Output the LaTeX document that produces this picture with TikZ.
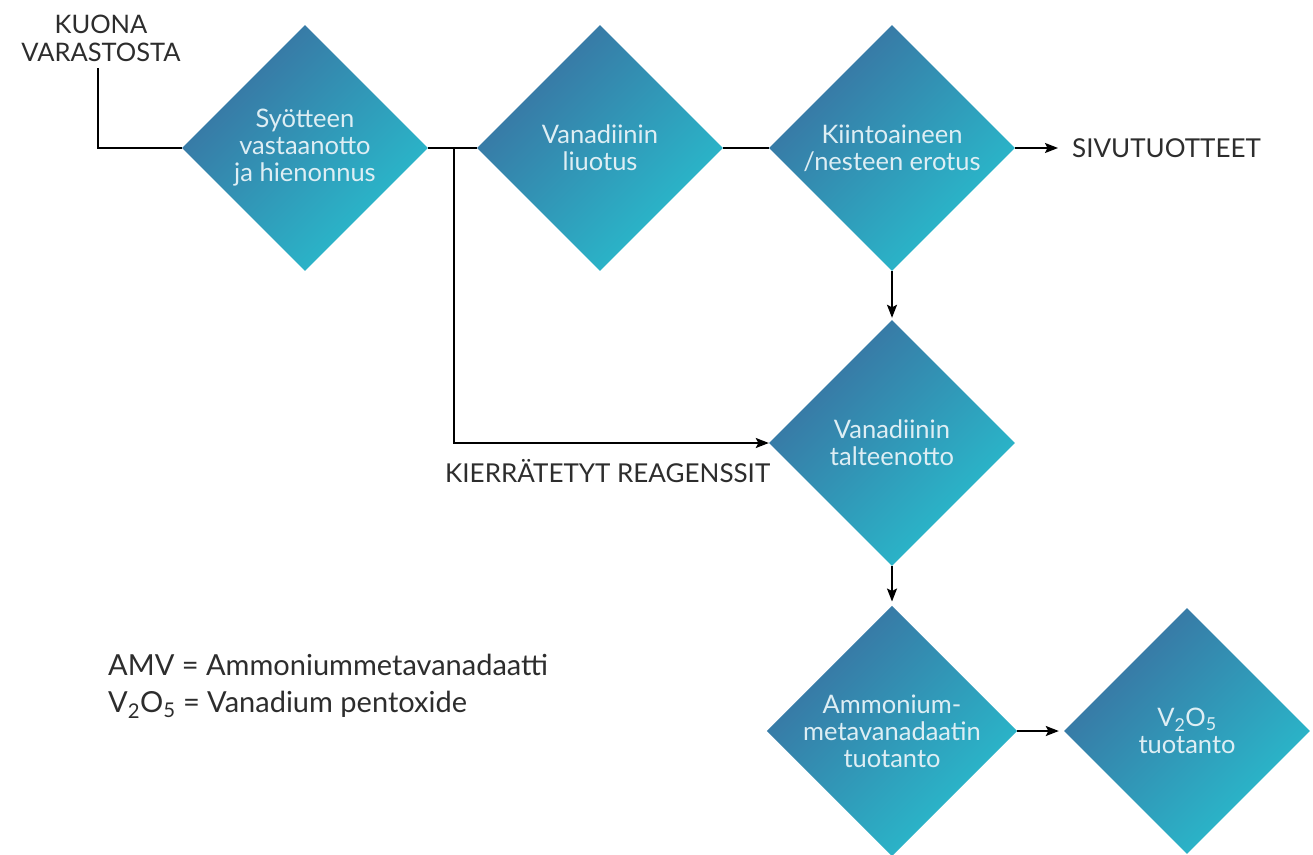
\documentclass[tikz,border=0pt]{standalone}
\usepackage{fontspec}
\setmainfont{Lato}
\usetikzlibrary{shapes.geometric,arrows.meta}
\definecolor{dkblue}{RGB}{58,112,160}
\definecolor{cyanb}{RGB}{40,190,206}
\definecolor{txtlight}{RGB}{222,238,244}
\definecolor{ink}{RGB}{45,45,45}
\begin{document}
\begin{tikzpicture}[x=1pt,y=-1pt,
  proc/.style={diamond, aspect=1, minimum width=246pt, minimum height=246pt, inner sep=0pt,
    top color=dkblue, bottom color=cyanb, shading angle=45, text=txtlight, align=center,
    font=\fontsize{25.5}{27}\selectfont},
  lbl/.style={text=ink, font=\fontsize{26}{28}\selectfont, inner sep=0pt},
  conn/.style={line width=1.7pt, draw=black},
  arr/.style={conn, -{Stealth[length=13pt,width=10pt,inset=2.5pt]}}]
\useasboundingbox (0,0) rectangle (1313,854);

\node[proc] (d1) at (305,148) {Syötteen\\vastaanotto\\ja hienonnus};
\node[proc] (d2) at (600,148) {Vanadiinin\\liuotus};
\node[proc] (d3) at (892,148) {Kiintoaineen\\/nesteen erotus};
\node[proc] (d4) at (892,443) {Vanadiinin\\talteenotto};
\node[proc] (d5) at (892,731) {Ammonium-\\metavanadaatin\\tuotanto};
\node[proc] (d6) at (1187,731) {V\textsubscript{2}O\textsubscript{5}\\tuotanto};

\node[lbl, align=center, font=\fontsize{25.5}{28}\selectfont] (src) at (101,38) {KUONA\\VARASTOSTA};
\node[lbl, anchor=base west] (sivu) at (1072,157) {SIVUTUOTTEET};
\node[lbl, anchor=base west] (kier) at (445,482) {KIERRÄTETYT REAGENSSIT};
\node[lbl, anchor=base west, font=\fontsize{29}{32}\selectfont] (leg1) at (108,675) {AMV = Ammoniummetavanadaatti};
\node[lbl, anchor=base west, font=\fontsize{29}{32}\selectfont] (leg2) at (108,712) {V\textsubscript{2}O\textsubscript{5} = Vanadium pentoxide};

\coordinate (srcend) at (98,68);
\coordinate (br) at (454,148);

\draw[conn] (srcend) |- (d1.west);
\draw[conn] (d1.east) -- (d2.west);
\draw[arr] (br) |- (d4.west);
\draw[conn] (d2.east) -- (d3.west);
\draw[arr, shorten >=14pt] (d3.east) -- (d3.east -| sivu.west);
\draw[arr, shorten >=2pt] (d3.south) -- (d4.north);
\draw[arr, shorten >=4pt] (d4.south) -- (d5.north);
\draw[arr, shorten >=5pt] (d5.east) -- (d6.west);
\end{tikzpicture}
\end{document}
